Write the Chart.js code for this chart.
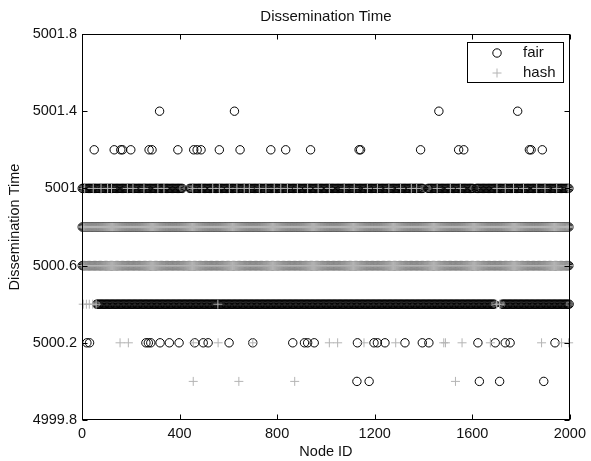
<!DOCTYPE html>
<html><head><meta charset="utf-8">
<script src="https://cdn.jsdelivr.net/npm/chart.js@4.4.1/dist/chart.umd.min.js"></script>
<style>html,body{margin:0;padding:0;background:#fff}#c{display:block}</style>
</head><body>
<canvas id="c" width="591" height="461"></canvas>
<script>
// ---------- data ----------
const xTickLabels = [0, 400, 800, 1200, 1600, 2000];
const yTickLabels = ['4999.8', '5000.2', '5000.6', '5001', '5001.4', '5001.8'];

// "fair" series: node IDs at each dissemination-time level
const fairAt50014 = [318, 625, 1463, 1786];
const fairAt50012 = [50, 132, 159, 166, 200, 275, 287, 393, 458, 472, 488, 563, 648, 774, 835, 937, 1136, 1142, 1388, 1544, 1565, 1834, 1841, 1887];
const fairAt50002 = [20, 31, 262, 272, 282, 320, 358, 398, 462, 497, 517, 603, 700, 864, 912, 925, 952, 1129, 1197, 1211, 1242, 1324, 1395, 1422, 1623, 1694, 1735, 1755, 1939];
const fairAt50000 = [1127, 1177, 1629, 1712, 1893];
// dense bands: node-ID ranges where the band of marks is continuous
const fairRunsAt50010 = [[1, 415], [442, 1400], [1418, 1604], [1616, 2000]];
const fairRunsAt50008 = [[1, 2000]];
const fairRunsAt50006 = [[1, 2000]];
const fairRunsAt50004 = [[60, 1692], [1722, 2000]];

// "hash" series
const hashAt50010 = [11, 46, 78, 105, 121, 186, 209, 254, 311, 336, 454, 491, 536, 563, 604, 635, 665, 686, 727, 754, 788, 815, 842, 883, 925, 968, 1014, 1075, 1116, 1170, 1211, 1258, 1306, 1350, 1372, 1456, 1510, 1551, 1701, 1735, 1769, 1810, 1864, 1898, 1946, 1993];
const hashAt50004 = [5, 18, 30, 44, 58, 557, 1700, 1712];
const hashAt50002 = [156, 190, 456, 558, 700, 1014, 1048, 1156, 1286, 1483, 1490, 1558, 1674, 1884, 1966, 1995];
const hashAt50000 = [456, 643, 872, 1531];
const hashRunsAt50008 = [[1, 2000]];
const hashRunsAt50006 = [[1, 2000]];

// node-ID sampling inside the dense bands
const fairBandStep = 5;
const hashBandStep = 4;

// ---------- build datasets ----------
function pts(ids, y) { return ids.map(id => ({ x: id, y: y })); }
function band(runs, step, y) {
  const out = [];
  runs.forEach(([a, b]) => { for (let id = a; id <= b; id += step) out.push({ x: id, y: y }); });
  return out;
}
const fairData = [].concat(
  pts(fairAt50014, 5001.4), pts(fairAt50012, 5001.2),
  band(fairRunsAt50010, fairBandStep, 5001.0), band(fairRunsAt50008, fairBandStep, 5000.8),
  band(fairRunsAt50006, fairBandStep, 5000.6), band(fairRunsAt50004, fairBandStep, 5000.4),
  pts(fairAt50002, 5000.2), pts(fairAt50000, 5000.0));
const hashData = [].concat(
  pts(hashAt50010, 5001.0),
  band(hashRunsAt50008, hashBandStep, 5000.8), band(hashRunsAt50006, hashBandStep, 5000.6),
  pts(hashAt50004, 5000.4), pts(hashAt50002, 5000.2), pts(hashAt50000, 5000.0));

const FONT = 'Liberation Sans, Arial, Helvetica, sans-serif';
const TXT = '#111';
const FAIR_COLOR = '#000';
const HASH_COLOR = '#b4b4b4';

const frameAndTicks = {
  id: 'frameAndTicks',
  afterDatasetsDraw(chart) {
    const { ctx, chartArea: a, scales: { x, y } } = chart;
    ctx.save();
    ctx.strokeStyle = '#000';
    ctx.lineWidth = 1;
    const L = Math.round(a.left) + 0.5, R = Math.round(a.right) - 0.5;
    const T = Math.round(a.top) + 0.5, B = Math.round(a.bottom) - 0.5;
    ctx.strokeRect(L, T, R - L, B - T);
    ctx.beginPath();
    xTickLabels.forEach(v => {
      const px = Math.round(x.getPixelForValue(v)) + 0.5;
      ctx.moveTo(px, B); ctx.lineTo(px, B - 5);
      ctx.moveTo(px, T); ctx.lineTo(px, T + 5);
    });
    yTickLabels.forEach(s => {
      const py = Math.round(y.getPixelForValue(parseFloat(s))) + 0.5;
      ctx.moveTo(L, py); ctx.lineTo(L + 5, py);
      ctx.moveTo(R, py); ctx.lineTo(R - 5, py);
    });
    ctx.stroke();
    ctx.restore();
  },
  afterDraw(chart) {
    const { ctx, chartArea: a } = chart;
    const w = 96, h = 40;
    const left = Math.round(a.right) - 7 - w, top = Math.round(a.top) + 8;
    ctx.save();
    ctx.fillStyle = '#fff';
    ctx.fillRect(left, top, w, h);
    ctx.strokeStyle = '#000';
    ctx.lineWidth = 1;
    ctx.strokeRect(left + 0.5, top + 0.5, w, h);
    const items = chart.data.datasets;
    const rows = [top + 11, top + 31];
    items.forEach((ds, i) => {
      const cx = left + 30, cy = rows[i];
      ctx.strokeStyle = ds.borderColor;
      ctx.lineWidth = 1;
      ctx.beginPath();
      if (ds.pointStyle === 'circle') {
        ctx.arc(cx, cy, ds.pointRadius, 0, Math.PI * 2);
      } else {
        const r = ds.pointRadius;
        ctx.moveTo(cx - r, cy); ctx.lineTo(cx + r, cy);
        ctx.moveTo(cx, cy - r); ctx.lineTo(cx, cy + r);
      }
      ctx.stroke();
      ctx.fillStyle = TXT;
      ctx.font = '15px ' + FONT;
      ctx.textBaseline = 'middle';
      ctx.textAlign = 'left';
      ctx.fillText(ds.label, left + 56, cy);
    });
    ctx.restore();
  }
};

new Chart(document.getElementById('c'), {
  type: 'scatter',
  data: {
    datasets: [
      { label: 'fair', data: fairData, pointStyle: 'circle', pointRadius: 4.2, pointBorderWidth: 1,
        borderColor: FAIR_COLOR, pointBorderColor: FAIR_COLOR, backgroundColor: 'rgba(0,0,0,0)',
        pointBackgroundColor: 'rgba(0,0,0,0)', clip: false, order: 1 },
      { label: 'hash', data: hashData, pointStyle: 'cross', pointRadius: 4.5, pointBorderWidth: 1,
        borderColor: HASH_COLOR, pointBorderColor: HASH_COLOR, backgroundColor: HASH_COLOR,
        clip: false, order: 0 }
    ]
  },
  options: {
    responsive: false, animation: false, devicePixelRatio: 1,
    events: [],
    layout: { padding: { left: 0, right: 19, top: 0, bottom: 0 } },
    plugins: {
      legend: { display: false },
      tooltip: { enabled: false },
      title: { display: true, fullSize: false, text: 'Dissemination Time', color: TXT,
        font: { family: FONT, size: 15, weight: 'normal' }, padding: { top: 8, bottom: 8 } }
    },
    scales: {
      x: {
        type: 'linear', min: 0, max: 2000,
        afterBuildTicks: s => { s.ticks = xTickLabels.map(v => ({ value: v })); },
        ticks: { color: TXT, font: { family: FONT, size: 14.5 }, padding: 5, maxRotation: 0, autoSkip: false,
          callback: (v) => String(v) },
        grid: { display: false, drawTicks: false }, border: { display: false },
        title: { display: true, text: 'Node ID', color: TXT, font: { family: FONT, size: 14.5 }, padding: { top: 0, bottom: 0 } },
        afterFit: s => { s.height = 41; }
      },
      y: {
        type: 'linear', min: 4999.8, max: 5001.8,
        afterBuildTicks: s => { s.ticks = yTickLabels.map(v => ({ value: parseFloat(v) })); },
        ticks: { color: TXT, font: { family: FONT, size: 14.5 }, padding: 5, autoSkip: false,
          callback: (v) => { const f = yTickLabels.find(s => Math.abs(parseFloat(s) - v) < 1e-6); return f || ''; } },
        grid: { display: false, drawTicks: false }, border: { display: false },
        title: { display: true, text: 'Dissemination Time', color: TXT, font: { family: FONT, size: 14.5 }, padding: { top: 6, bottom: 0 } },
        afterFit: s => { s.width = 82; }
      }
    }
  },
  plugins: [frameAndTicks]
});
</script>
</body></html>
